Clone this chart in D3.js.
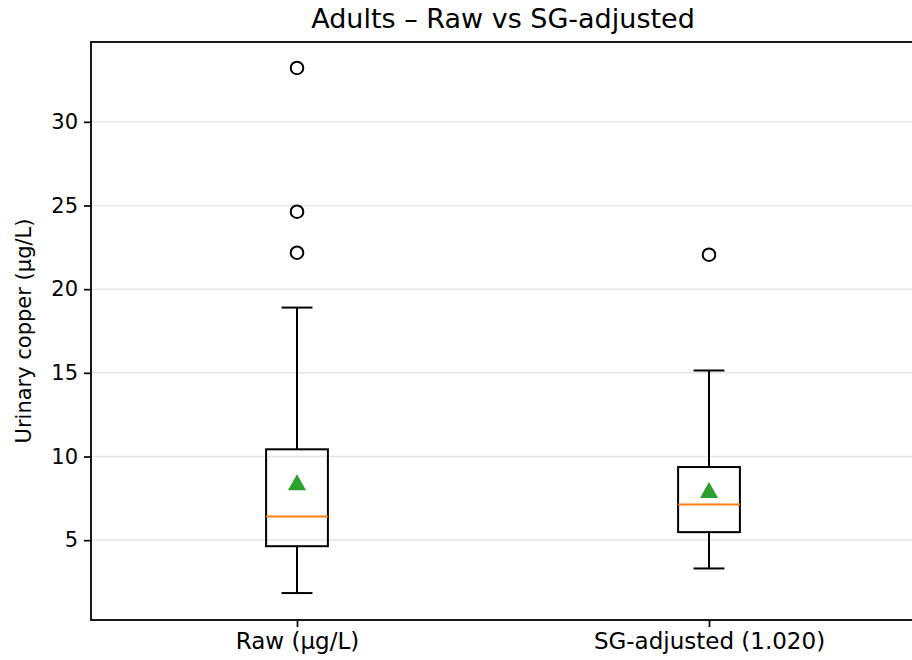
<!DOCTYPE html>
<html>
<head>
<meta charset="utf-8">
<script src="https://cdn.jsdelivr.net/npm/d3@7.9.0/dist/d3.min.js"></script>
<style>
  body { margin: 0; background: #fff; }
  svg text { font-family: "DejaVu Sans", sans-serif; fill: #000; }
</style>
</head>
<body>
<svg width="912" height="660"></svg>
<script>
// values
const categories = ["Raw (µg/L)", "SG-adjusted (1.020)"];
const whiskerLow = [1.84, 3.31];
const q1 = [4.64, 5.48];
const medians = [6.41, 7.13];
const q3 = [10.43, 9.37];
const whiskerHigh = [18.9, 15.14];
const means = [8.46, 8.0];
const outliers = [[33.22, 24.63, 22.18], [22.06]];
const yTicks = [5, 10, 15, 20, 25, 30];

const svg = d3.select("svg");
const margin = { left: 91, right: -3, top: 42, bottom: 40 };
const W = 912, H = 660;

// positions 1 and 2 on a 0.5–2.5 axis, like a matplotlib boxplot
const x = d3.scaleLinear().domain([0.5, 2.5]).range([margin.left, W - margin.right]);
const y = d3.scaleLinear().domain([0.23, 34.77]).range([H - margin.bottom, margin.top]);
const boxW = 0.15;
const lw = 2;

// grid
svg.append("g").selectAll("line").data(yTicks).join("line")
  .attr("x1", margin.left).attr("x2", W)
  .attr("y1", d => y(d)).attr("y2", d => y(d))
  .attr("stroke", "#e5e5e5").attr("stroke-width", 1.5);

// axes
const yAxis = svg.append("g").attr("transform", `translate(${margin.left},0)`)
  .call(d3.axisLeft(y).tickValues(yTicks).tickSize(7).tickPadding(6));
const xAxis = svg.append("g").attr("transform", `translate(0,${H - margin.bottom})`)
  .call(d3.axisBottom(x).tickValues([1, 2]).tickFormat((d, i) => categories[i]).tickSize(7).tickPadding(6));
[yAxis, xAxis].forEach(g => {
  g.attr("font-size", null).attr("font-family", null);
  g.select(".domain").remove();
  g.selectAll("line").attr("stroke", "#000").attr("stroke-width", 1.7);
});
yAxis.selectAll("text").style("font-size", "21px");
xAxis.selectAll("text").style("font-size", "23px");

// spines
svg.append("rect")
  .attr("x", margin.left).attr("y", margin.top)
  .attr("width", W - margin.right - margin.left).attr("height", H - margin.bottom - margin.top)
  .attr("fill", "none").attr("stroke", "#000").attr("stroke-width", 1.8);

// mean marker: triangle centred on its bounding box
const tri = d3.line()([[0, -8], [-9, 8], [9, 8]]) + "Z";

// boxes
const boxes = svg.append("g");
categories.forEach((c, i) => {
  const cx = x(i + 1);
  const hw = x(1 + boxW / 2) - x(1);
  const g = boxes.append("g").attr("stroke", "#000").attr("stroke-width", lw).attr("fill", "none");
  g.append("line").attr("x1", cx).attr("x2", cx).attr("y1", y(q3[i])).attr("y2", y(whiskerHigh[i]));
  g.append("line").attr("x1", cx).attr("x2", cx).attr("y1", y(q1[i])).attr("y2", y(whiskerLow[i]));
  g.append("line").attr("x1", cx - hw / 2).attr("x2", cx + hw / 2).attr("y1", y(whiskerHigh[i])).attr("y2", y(whiskerHigh[i]));
  g.append("line").attr("x1", cx - hw / 2).attr("x2", cx + hw / 2).attr("y1", y(whiskerLow[i])).attr("y2", y(whiskerLow[i]));
  g.append("rect").attr("x", cx - hw).attr("y", y(q3[i]))
    .attr("width", 2 * hw).attr("height", y(q1[i]) - y(q3[i]));
  g.append("line").attr("x1", cx - hw).attr("x2", cx + hw)
    .attr("y1", y(medians[i])).attr("y2", y(medians[i]))
    .attr("stroke", "#ff7f0e");
  g.selectAll("circle").data(outliers[i]).join("circle")
    .attr("cx", cx).attr("cy", d => y(d)).attr("r", 6.3);
  g.append("path")
    .attr("d", tri)
    .attr("transform", `translate(${cx},${y(means[i])})`)
    .attr("fill", "#2ca02c").attr("stroke", "none");
});

// title and label
svg.append("text").attr("x", (margin.left + W - margin.right) / 2).attr("y", 28)
  .attr("text-anchor", "middle").style("font-size", "27px").text("Adults – Raw vs SG-adjusted");
svg.append("text")
  .attr("transform", `translate(31,${(margin.top + H - margin.bottom) / 2}) rotate(-90)`)
  .attr("text-anchor", "middle").style("font-size", "21px").text("Urinary copper (µg/L)");
</script>
</body>
</html>
